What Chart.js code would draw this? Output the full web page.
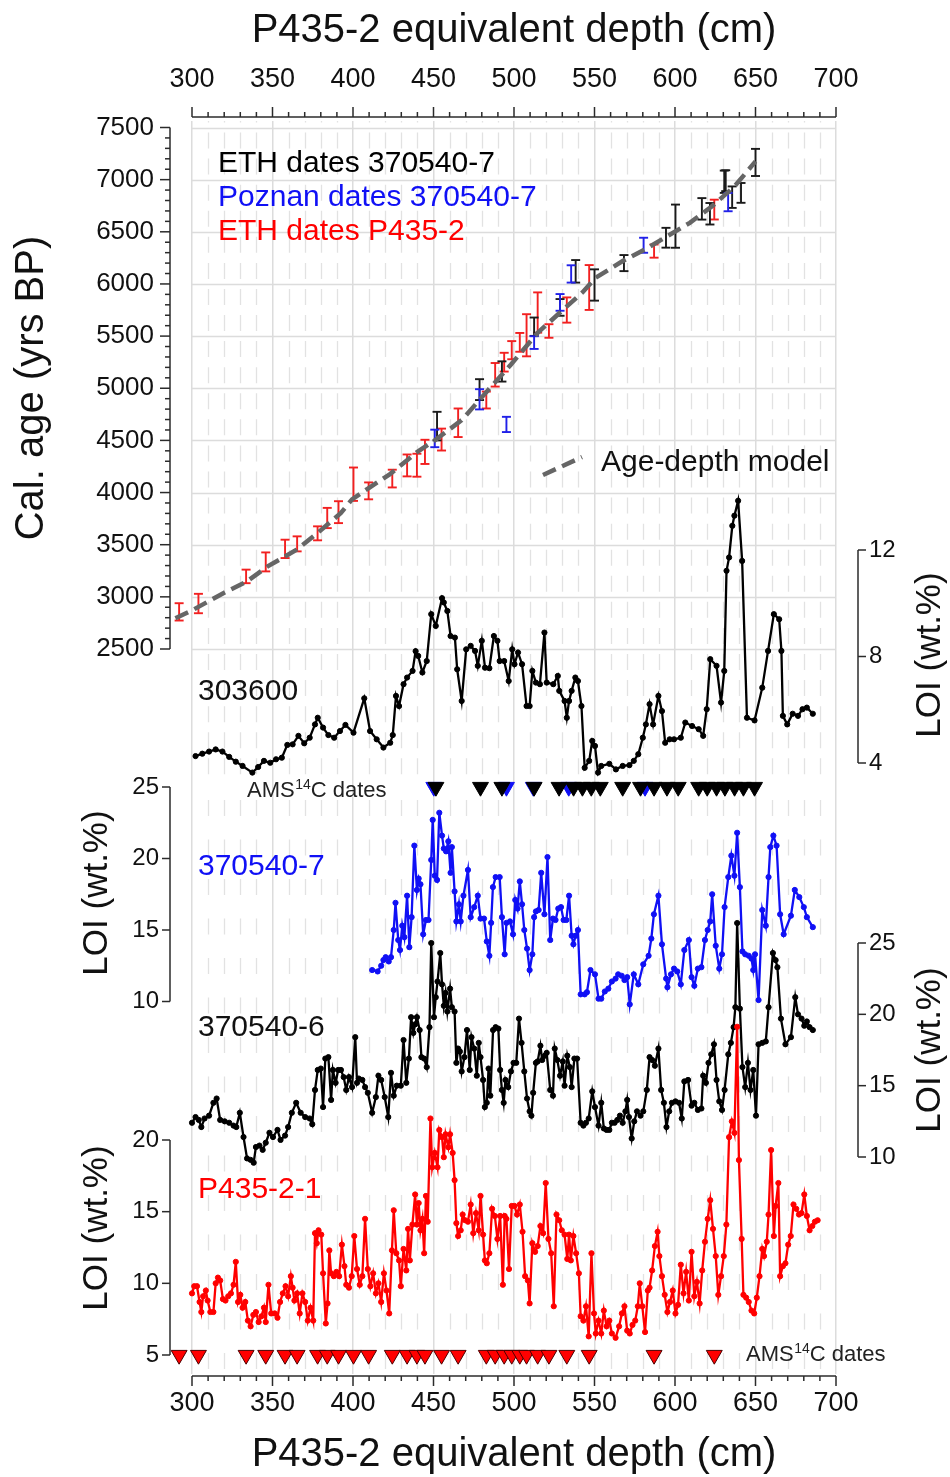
<!DOCTYPE html>
<html><head><meta charset="utf-8">
<script src="https://cdn.jsdelivr.net/npm/chart.js@4/dist/chart.umd.min.js"></script>
<style>html,body{margin:0;padding:0;background:#fff}canvas{display:block}</style>
</head><body>
<canvas id="c" width="950" height="1477" style="width:950px;height:1477px"></canvas>
<script>
// ---------------- DATA ----------------
const depthTicks = [300,350,400,450,500,550,600,650,700];
const depthMinorStep = 10;
const ageTicks = [2500,3000,3500,4000,4500,5000,5500,6000,6500,7000,7500];
const ageMinorStep = 100;
const loiTicks303600 = [4,8,12];
const loiTicks370540_7 = [10,15,20,25];
const loiTicks370540_6 = [10,15,20,25];
const loiTicksP435 = [5,10,15,20];

// age-depth model
const modelDepth = [289.7,300,310,320,334,347,365,378,392.5,399.4,410,423,440,450.8,467.5,484,498,514.7,528.6,542.5,550.8,567.5,581.4,595.3,609.2,623,637,650];
const modelAge   = [2795,2870,2955,3040,3147,3292,3452,3612,3804,3935,4045,4177,4390,4500,4694,4984,5226,5532,5726,5919,6060,6220,6331,6459,6586,6745,6936,7175];

// ETH dates 370540-7 (black)
const ethDepth370540 = [452.2,478.6,492.5,512.5,528.6,538.3,550,568.3,594.4,600.3,616.7,621.7,630.6,631.5,635.5,641,650];
const ethAge370540   = [4637,4987,5161,5590,5775,6121,5990,6200,6443,6554,6720,6673,6980,6990,6832,6873,7165];
const ethErr370540   = [137,100,97,88,80,108,150,77,95,207,103,103,107,100,103,95,130];
// Poznan dates 370540-7 (blue)
const poznanDepth370540 = [450.8,478.6,495.3,512.5,528.6,535.5,580.5,633];
const poznanAge370540   = [4519,4894,4653,5438,5823,6096,6371,6785];
const poznanErr370540   = [84,97,73,61,80,83,72,88];
// ETH dates P435-2 (red)
const ethDepthP435 = [292,304,333.6,345.8,357.8,365.3,378,384,391,400.3,409.7,424.4,433.6,439.7,444.7,455,465.3,482.8,488.3,493.9,498.6,503.6,507.8,514.7,521.7,532.8,546.7,587,624.4];
const ethAgeP435   = [2856,2936,3196,3335,3460,3508,3609,3756,3812,4080,4016,4134,4260,4262,4390,4508,4669,4887,5129,5250,5365,5440,5508,5726,5549,5750,5966,6315,6713];
const ethErrP435   = [83,93,65,91,88,72,67,97,105,160,81,85,105,110,116,105,137,81,113,90,87,90,202,193,65,121,215,63,95];

// AMS 14C date depths in core 370540-7 (triangle row)
const amsEth370540 = [451.5,479.2,492.5,512.5,528,537,542.5,548,553.6,567.5,578.6,587,595,602,614.7,620,625.8,631,637,642.5,649.4];
const amsPoznan370540 = [450.2,495.3,512,534,581.4];

// LOI 303600
const depth303600 = [302.2,306.4,310.6,314.7,318.9,323.1,327.2,331.4,337.5,341.1,344.7,348.6,352.2,355.8,359.2,362.5,366.1,369.7,373.1,376.4,378.1,381.4,384.7,388.3,391.9,395.3,400.3,407.0,410.6,414.7,418.9,423.1,424.7,426.7,428.6,431.4,433.6,437.0,438.9,440.5,443.1,445.8,448.6,451.4,455.3,456.4,458.6,460.6,463.3,464.7,467.5,470.3,473.1,475.8,477.5,480.0,482.0,484.7,487.5,489.7,491.1,493.9,496.7,498.9,500.3,502.5,505.0,507.8,509.7,511.4,513.6,516.1,518.9,520.3,524.4,527.2,528.1,531.4,532.8,534.2,535.8,538.1,539.7,541.9,543.9,546.7,548.6,550.3,552.2,554.2,559.2,563.3,567.5,571.7,574.4,577.2,580.0,581.9,584.2,586.4,589.7,591.9,593.9,596.7,599.4,603.6,606.4,610.6,614.7,617.5,619.7,621.9,625.8,628.6,630.6,632.0,633.6,635.6,636.9,639.2,641.7,644.7,649.4,654.2,657.8,661.4,664.7,666.1,667.0,669.7,673.1,676.4,679.2,681.9,685.6];
const loi303600 = [4.26,4.35,4.43,4.51,4.43,4.23,4.05,3.89,3.64,3.85,4.08,4.01,4.14,4.20,4.68,4.70,5.02,4.74,4.95,5.45,5.70,5.33,5.05,4.95,5.20,5.43,5.14,6.43,5.20,4.89,4.58,4.76,5.05,6.52,6.14,6.96,7.21,7.46,8.20,8.02,7.40,7.83,9.59,9.15,10.19,10.03,9.71,8.77,8.71,7.52,6.33,8.27,8.40,8.21,7.65,8.59,7.58,7.56,8.77,8.59,7.83,7.83,7.08,8.27,7.71,8.15,7.71,6.14,6.14,7.46,7.02,6.96,8.90,7.02,6.96,7.27,6.71,6.33,5.70,6.33,6.71,7.21,7.08,6.14,3.82,4.08,4.83,4.64,3.64,3.89,3.97,3.76,3.89,3.92,4.08,4.33,4.95,5.45,6.21,5.45,6.52,5.95,4.76,4.89,4.89,4.95,5.52,5.39,5.27,5.02,6.02,7.90,7.65,6.27,7.46,11.22,11.72,12.91,13.29,13.85,11.59,5.70,5.60,6.83,8.21,9.59,9.40,8.21,5.77,5.45,5.85,5.77,6.02,6.08,5.85];

// LOI 370540-7
const depth370540_7 = [411.9,415.3,417.5,418.9,420.3,422.2,423.6,425.3,426.4,428.1,429.2,430.6,431.9,433.6,435.0,436.4,438.1,439.7,440.8,441.9,443.6,445.3,446.9,448.6,449.5,450.8,452.2,453.6,455.3,456.4,457.8,459.2,460.6,461.4,463.1,464.2,465.8,466.9,468.6,471.4,473.1,475.3,477.5,479.2,481.4,483.1,484.7,485.8,486.9,488.6,491.1,492.5,494.2,495.3,497.5,499.4,500.8,502.2,503.6,505.0,506.4,508.1,509.7,511.4,512.5,513.6,515.3,516.9,518.9,520.8,522.5,524.2,525.8,527.5,529.2,530.8,532.5,534.2,535.8,536.9,538.3,539.7,541.4,543.9,545.3,547.5,550.3,552.5,554.2,556.4,558.6,560.8,563.1,564.7,566.9,568.6,570.3,571.9,574.4,577.2,580.3,583.6,585.3,586.9,589.7,591.9,594.5,595.3,597.5,599.4,601.4,603.6,605.8,608.6,610.3,612.0,614.2,616.4,618.6,620.3,621.9,623.1,625.3,627.5,629.2,630.8,633.1,635.0,636.9,638.6,640.3,641.9,643.6,645.8,647.5,648.6,649.7,651.9,654.2,656.4,658.1,659.2,661.1,663.1,665.3,667.5,672.0,674.4,677.2,680.0,681.9,685.6];
const loi370540_7 = [12.2,12.1,12.5,12.9,13.1,12.8,13.1,15.0,16.9,14.3,13.6,15.3,14.5,17.4,13.8,15.9,20.9,17.8,18.6,18.2,14.7,15.7,15.7,19.9,22.7,18.8,18.5,23.2,21.6,20.7,20.5,21.2,19.0,20.8,17.7,15.6,16.8,15.6,17.4,19.2,15.9,16.6,17.4,15.8,15.8,14.2,13.2,15.5,18.0,18.7,18.7,15.9,13.3,15.5,15.6,14.7,17.1,16.5,18.4,16.8,15.0,13.7,12.2,13.3,15.9,16.3,16.4,19.0,16.1,20.1,14.3,15.8,15.7,16.5,16.6,15.7,15.7,17.4,14.6,14.0,14.6,15.0,10.5,10.5,10.65,12.2,11.9,10.2,10.2,10.7,10.9,11.4,11.6,11.9,11.8,11.5,11.7,9.8,11.9,11.2,12.6,13.2,14.4,16.1,17.4,14.0,11.6,11.0,11.9,12.3,12.1,11.2,13.6,14.3,11.7,11.1,12.3,12.4,14.3,15.0,15.6,17.5,13.9,12.3,13.3,16.6,18.7,20.2,18.8,21.8,18.0,13.5,13.3,13.2,13.0,12.2,13.3,10.1,16.4,15.3,18.7,20.8,21.6,20.9,16.1,14.7,16.0,17.8,17.3,16.6,15.9,15.2];

// LOI 370540-6
const depth370540_6 = [300.0,302.2,304.2,305.8,307.8,310.6,313.3,315.3,317.5,320.3,323.1,325.8,327.5,329.7,332.0,334.2,336.4,338.3,339.7,341.9,343.9,345.8,348.1,350.3,353.1,355.0,357.8,359.7,362.0,364.7,367.5,370.3,373.1,374.7,376.4,378.1,380.0,381.4,382.8,384.7,386.4,387.5,389.2,390.8,392.5,394.2,395.8,397.5,399.4,401.4,402.5,403.6,405.8,407.5,409.2,411.9,414.2,415.8,417.5,419.7,421.9,423.6,425.3,427.2,429.7,431.4,433.1,434.7,436.1,437.5,438.6,439.7,441.4,442.5,444.2,445.8,447.5,448.6,450.3,451.4,452.5,454.2,455.3,456.4,457.5,458.6,460.3,461.4,463.1,464.2,465.3,466.4,467.5,469.2,470.8,472.5,473.6,475.3,476.9,478.1,479.2,480.8,481.9,483.1,484.2,485.3,487.0,488.6,490.3,491.4,492.5,493.6,494.7,496.4,498.1,499.7,501.4,503.1,504.7,506.4,508.1,509.7,510.8,511.9,513.6,514.7,516.4,517.5,519.2,520.3,522.5,524.2,525.3,526.9,528.6,530.3,531.4,533.1,534.7,535.8,537.5,539.2,541.4,543.1,544.7,546.4,548.6,550.3,552.5,554.2,555.8,557.5,559.2,560.8,562.5,564.2,565.8,567.5,569.2,570.3,571.4,573.1,574.7,576.4,578.6,580.3,582.5,584.2,585.8,587.5,589.7,591.4,593.1,594.7,596.4,598.1,600.3,602.5,604.2,605.8,608.1,610.3,612.0,614.2,616.4,617.5,619.2,620.8,622.5,624.2,625.8,627.5,629.2,630.8,633.1,634.7,636.4,637.5,638.6,640.3,641.9,643.6,645.3,646.9,648.6,650.3,651.9,654.2,656.4,658.1,660.8,662.5,663.6,665.8,668.6,672.0,674.7,676.4,678.6,680.3,681.9,683.6,685.6];
const loi370540_6 = [12.4,12.8,12.6,12.1,12.7,12.9,13.8,14.1,12.6,12.5,12.4,12.2,12.1,13.1,11.4,9.9,9.8,9.6,10.7,10.8,10.5,11.0,11.7,11.4,11.9,11.2,11.5,12.1,13.1,13.8,13.1,12.8,12.7,12.3,14.7,16.1,16.2,13.5,16.9,17.0,14.0,16.1,15.2,16.1,16.1,15.6,14.7,15.6,14.9,18.4,15.2,15.5,15.4,14.9,14.5,13.1,14.2,15.7,15.4,14.2,12.8,15.9,14.3,15.0,15.0,18.2,15.2,16.9,19.8,18.7,19.3,19.8,18.9,17.0,16.9,16.3,19.1,25.0,19.8,21.2,22.3,24.3,22.1,20.6,21.5,20.2,21.8,20.5,20.2,16.6,17.6,17.4,16.0,17.0,18.9,16.1,18.4,17.6,15.7,18.0,17.0,15.4,13.5,13.8,16.2,14.3,18.9,19.1,19.0,16.1,14.7,13.8,15.4,14.9,16.0,16.6,16.6,19.7,18.0,16.0,14.1,13.2,12.9,14.5,16.6,16.7,17.8,16.8,17.1,17.3,14.7,14.3,17.6,16.8,15.7,16.7,15.0,17.1,16.3,14.9,16.9,16.9,12.4,12.2,12.4,12.7,14.6,13.5,12.2,13.8,12.0,11.9,11.9,12.4,12.4,12.6,12.9,12.4,13.2,14.0,12.8,11.3,12.5,13.2,12.9,13.2,14.7,17.0,16.8,16.4,17.6,14.7,13.8,12.1,13.2,13.8,13.9,13.8,12.7,15.3,15.4,13.6,13.8,13.3,13.4,15.7,15.2,16.6,17.2,17.9,15.4,13.9,13.3,14.7,17.2,18.0,19.1,20.5,26.4,20.4,16.3,14.9,16.6,14.7,16.1,12.9,17.9,18.0,18.1,20.5,24.3,23.8,23.3,19.7,17.9,18.4,21.2,20.0,19.7,19.2,19.5,19.1,18.9];

// LOI P435-2-1
const depthP435 = [300.0,301.4,303.1,304.7,305.8,306.9,308.6,309.7,311.4,313.3,314.7,316.1,317.5,319.2,320.8,322.5,324.2,325.8,327.2,328.6,330.0,331.4,333.1,334.7,336.4,338.1,339.7,341.4,343.1,344.7,345.8,347.5,349.2,351.4,353.1,354.7,356.4,358.1,359.7,361.4,362.5,363.6,365.3,366.9,368.6,370.3,371.9,373.6,375.3,376.4,377.5,378.6,380.3,381.4,383.1,384.2,385.3,386.4,388.1,389.7,391.4,393.1,394.7,395.8,397.5,399.2,400.8,402.5,404.2,405.8,407.5,409.2,410.8,412.5,414.2,415.8,417.5,419.2,420.8,422.5,424.2,425.3,426.9,428.6,429.7,431.4,433.1,434.2,435.3,436.9,438.6,439.7,440.8,441.9,443.1,444.2,445.3,446.4,448.1,449.2,450.8,452.5,453.6,455.3,456.4,457.5,459.2,460.3,461.9,463.1,464.2,465.3,466.9,468.1,469.7,471.4,473.1,474.7,476.4,478.1,479.2,480.8,481.9,483.1,484.7,486.4,488.1,489.7,491.4,493.1,494.2,495.3,496.9,498.6,500.3,501.9,503.6,505.3,506.9,508.6,509.7,511.4,513.1,514.7,516.4,518.1,519.7,521.4,523.1,524.7,526.4,528.1,529.7,531.4,533.1,534.2,535.3,536.9,538.6,540.3,541.4,543.1,544.7,546.4,548.1,549.7,550.8,552.5,554.2,555.8,557.5,559.2,560.8,563.1,565.3,567.0,568.6,570.3,571.9,573.6,575.3,576.9,578.1,579.7,581.4,583.1,584.2,585.8,587.5,589.2,590.3,591.9,593.6,595.3,596.9,598.6,600.3,601.9,603.6,605.3,606.9,608.6,610.3,612.0,613.6,615.3,616.9,618.6,620.3,621.9,623.6,625.3,626.9,628.6,630.3,631.9,633.6,635.3,636.9,638.6,639.7,641.4,642.5,644.2,645.8,647.5,649.2,650.8,652.5,654.2,655.3,657.0,658.1,659.7,661.4,662.5,664.2,665.3,667.0,668.6,670.3,671.9,673.6,675.3,677.0,678.6,680.3,681.9,683.6,685.3,686.9,688.6];
const loiP435 = [9.3,9.8,9.8,8.7,8.0,9.1,9.5,8.8,8.0,8.0,10.0,10.4,10.2,8.9,8.8,9.1,9.3,9.9,11.5,8.7,9.2,8.3,8.7,7.4,7.0,7.8,8.0,7.3,7.7,8.3,7.3,9.9,7.9,7.9,7.6,8.7,9.3,9.8,9.1,10.5,9.7,8.8,9.3,7.9,9.3,8.7,7.4,8.3,7.4,13.5,12.8,13.7,13.4,10.7,7.2,8.6,12.3,10.7,10.5,10.8,10.5,12.7,11.2,9.9,9.7,10.5,13.3,11.0,9.9,10.5,14.5,11.0,9.8,10.7,9.3,10.0,8.7,10.7,9.5,7.9,12.3,15.1,12.1,11.6,9.8,12.4,10.9,13.8,11.6,14.1,16.2,14.1,15.6,13.7,14.5,12.1,16.1,14.3,21.5,18.1,19.1,18.1,20.7,20.2,18.8,20.4,19.5,20.4,19.1,17.2,14.2,13.3,13.7,14.8,14.4,14.3,15.5,13.5,14.9,13.7,16.1,13.4,11.6,11.4,12.1,15.2,14.7,13.1,14.7,9.9,14.7,14.5,11.0,15.4,15.4,14.8,15.5,13.6,10.5,10.2,8.6,12.8,12.2,12.6,14.0,13.5,17.0,13.1,12.1,8.4,14.8,14.4,13.7,13.4,11.7,13.4,11.6,13.3,12.1,10.7,7.7,7.4,8.4,6.3,12.1,7.9,6.5,7.4,6.5,8.1,7.0,7.4,6.5,6.2,7.0,7.9,8.4,6.7,6.5,7.1,7.4,8.4,10.0,8.4,6.6,9.5,9.7,10.9,12.6,13.6,11.9,10.5,9.2,8.0,8.7,9.5,7.9,8.5,11.3,9.3,10.8,8.8,12.2,9.1,10.1,8.6,10.9,12.9,14.5,15.8,13.8,11.9,9.2,10.5,11.9,14.1,20.2,21.3,20.5,27.9,18.6,13.1,9.2,9.0,8.7,8.1,7.9,9.0,10.5,12.4,11.9,12.9,14.8,19.3,13.3,15.4,17.0,10.5,11.2,11.4,12.7,13.3,15.5,15.2,14.8,14.9,16.2,14.7,13.7,14.0,14.3,14.4];

// ---------------- LAYOUT / STYLE ----------------
const W = 950, H = 1477;
const X300 = 192, X700 = 836;               // pixel columns of the first / last depth tick
const PX_PER_CM = (X700 - X300) / (depthTicks[depthTicks.length - 1] - depthTicks[0]);
const X_MIN = 285;                           // scale starts a little left of 300 so the first dates show
const AREA = {left: X300 - (depthTicks[0] - X_MIN) * PX_PER_CM, right: X700, top: 121, bottom: 1374};
const FONT = '"Liberation Sans", Arial, Helvetica, sans-serif';
const BLUE = '#1010f5', RED = '#ff0000', BLACK = '#000000';

function yRange(vHi, pHi, vLo, pLo) {
  const u = (pLo - pHi) / (vHi - vLo);
  return {min: vLo - (AREA.bottom - pLo) / u, max: vHi + (pHi - AREA.top) / u};
}
const rAge = yRange(7500, 127.5, 2500, 649);
const rA = yRange(12, 550, 4, 763);
const rB = yRange(25, 787, 10, 1001.5);
const rC = yRange(25, 943, 10, 1157);
const rD = yRange(20, 1140, 5, 1355);

const pts = (xs, ys) => xs.map((x, i) => ({x, y: ys[i]}));
const bars = (xs, ys, es) => xs.flatMap((x, i) => [{x, y: ys[i] - es[i]}, {x, y: ys[i] + es[i]}, {x, y: null}]);
const row = (xs, level) => xs.map(x => ({x, y: level}));

function errSet(label, xs, ys, es, color, order) {
  return {type:'line', label, data: bars(xs, ys, es), yAxisID:'yAge', borderColor:color, borderWidth:1.9,
    pointStyle:'line', pointRadius:4.5, pointBorderColor:color, pointBorderWidth:1.9, pointHoverRadius:4.5,
    spanGaps:false, clip:false, order};
}
function loiSet(label, xs, ys, axis, color, order) {
  return {type:'line', label, data: pts(xs, ys), yAxisID: axis, borderColor: color, borderWidth: 2.3,
    pointRadius: 2.6, pointBackgroundColor: color, pointBorderColor: color, pointBorderWidth: 1,
    tension: 0, clip: false, order};
}
function triSet(label, xs, level, axis, fill, stroke, order) {
  return {type:'scatter', label, data: row(xs, level), yAxisID: axis, pointStyle:'triangle', rotation:180,
    pointRadius: 9.2, pointHoverRadius: 9.2, backgroundColor: fill, borderColor: stroke, borderWidth: 1, clip:false, order};
}

const datasets = [
  errSet('ETH dates P435-2', ethDepthP435, ethAgeP435, ethErrP435, '#f22020', 22),
  errSet('ETH dates 370540-7', ethDepth370540, ethAge370540, ethErr370540, '#1a1a1a', 21),
  errSet('Poznan dates 370540-7', poznanDepth370540, poznanAge370540, poznanErr370540, '#2020e8', 20),
  {type:'line', label:'Age-depth model', data: pts(modelDepth, modelAge), yAxisID:'yAge', borderColor:'#666666',
    borderWidth:4.5, borderDash:[14,7], pointRadius:0, clip:false, order:15},
  loiSet('303600', depth303600, loi303600, 'yA', BLACK, 8),
  loiSet('370540-7', depth370540_7, loi370540_7, 'yB', BLUE, 7),
  loiSet('370540-6', depth370540_6, loi370540_6, 'yC', BLACK, 6),
  loiSet('P435-2-1', depthP435, loiP435, 'yD', RED, 5),
  triSet('AMS Poznan 370540-7', amsPoznan370540, 25, 'yB', BLUE, BLUE, 3),
  triSet('AMS ETH 370540-7', amsEth370540, 25, 'yB', BLACK, BLACK, 2),
  triSet('AMS ETH P435-2', ethDepthP435, 5, 'yD', RED, '#4a0000', 1)
];

function line(ctx, x1, y1, x2, y2) { ctx.beginPath(); ctx.moveTo(x1, y1); ctx.lineTo(x2, y2); ctx.stroke(); }
function text(ctx, s, x, y, size, color, align, rot) {
  ctx.save(); ctx.font = size + 'px ' + FONT; ctx.fillStyle = color; ctx.textAlign = align || 'left';
  ctx.textBaseline = 'middle'; ctx.translate(x, y); if (rot) ctx.rotate(rot); ctx.fillText(s, 0, 0); ctx.restore();
}
function amsLabel(ctx, x, y) {
  ctx.save(); ctx.fillStyle = '#222'; ctx.textAlign = 'left'; ctx.textBaseline = 'middle';
  ctx.font = '22px ' + FONT; let cx = x; ctx.fillText('AMS', cx, y); cx += ctx.measureText('AMS').width;
  ctx.font = '14px ' + FONT; ctx.fillText('14', cx + 0.5, y - 6); cx += ctx.measureText('14').width + 0.5;
  ctx.font = '22px ' + FONT; ctx.fillText('C dates', cx, y); ctx.restore();
}

const decor = {
  id: 'decor',
  beforeDatasetsDraw(chart) {
    const {ctx, chartArea: ca, scales} = chart;
    const x = scales.x, ya = scales.yAge;
    const xL = x.getPixelForValue(depthTicks[0]), xR = x.getPixelForValue(depthTicks[depthTicks.length - 1]);
    ctx.save();
    // horizontal age grid (only across the depth-tick span)
    ctx.strokeStyle = '#dcdcdc'; ctx.lineWidth = 1.5;
    ageTicks.forEach(a => { const py = Math.round(ya.getPixelForValue(a)) + 0.5; line(ctx, xL, py, xR, py); });
    // minor dashed depth grid
    ctx.beginPath(); ctx.rect(xL, ca.top, xR - xL, ca.bottom - ca.top); ctx.clip();
    ctx.strokeStyle = '#e2e2e2'; ctx.lineWidth = 1.3;
    const y0 = ya.getPixelForValue(ageTicks[ageTicks.length - 1]);
    const half = (ya.getPixelForValue(7000) - y0) / 2;
    for (let d = depthTicks[0] + depthMinorStep; d < depthTicks[depthTicks.length - 1]; d += depthMinorStep) {
      if (depthTicks.includes(d)) continue;
      const px = Math.round(x.getPixelForValue(d)) + 0.5;
      ctx.setLineDash([16, half - 16]);
      line(ctx, px, y0 + 5 - 2 * half, px, 782);
      ctx.setLineDash([16, 23.5]);
      line(ctx, px, 800, px, ca.bottom);
    }
    ctx.restore();
  },
  afterDraw(chart) {
    const {ctx, scales} = chart;
    const x = scales.x, ya = scales.yAge;
    ctx.save();
    ctx.strokeStyle = '#2b2b2b'; ctx.lineWidth = 1.5; ctx.setLineDash([]);
    const xL = x.getPixelForValue(depthTicks[0]), xR = x.getPixelForValue(depthTicks[depthTicks.length - 1]);
    // top & bottom depth axes
    const topY = 117, botY = 1376;
    line(ctx, xL, topY, xR, topY); line(ctx, xL, botY, xR, botY);
    for (let d = depthTicks[0]; d <= depthTicks[depthTicks.length - 1]; d += depthMinorStep) {
      const px = x.getPixelForValue(d), major = depthTicks.includes(d);
      line(ctx, px, topY, px, topY - (major ? 10 : 5));
      line(ctx, px, botY, px, botY + (major ? 10 : 5));
    }
    depthTicks.forEach(v => {
      text(ctx, String(v), x.getPixelForValue(v), 80, 27, '#111', 'center');
      text(ctx, String(v), x.getPixelForValue(v), 1404, 27, '#111', 'center');
    });
    // age axis
    const aTop = ya.getPixelForValue(ageTicks[ageTicks.length - 1]), aBot = ya.getPixelForValue(ageTicks[0]);
    line(ctx, 170, aTop, 170, aBot);
    for (let a = ageTicks[0]; a <= ageTicks[ageTicks.length - 1]; a += ageMinorStep) {
      const py = ya.getPixelForValue(a), major = ageTicks.includes(a);
      line(ctx, 170, py, 170 - (major ? 10 : 5), py);
    }
    ageTicks.forEach(v => text(ctx, String(v), 154, ya.getPixelForValue(v), 26, '#111', 'right'));
    // LOI bracket axes
    function bracket(scale, ticks, xl, side) {
      const t = scale.getPixelForValue(Math.max(...ticks)), b = scale.getPixelForValue(Math.min(...ticks));
      line(ctx, xl, t, xl, b);
      ticks.forEach(v => {
        const py = scale.getPixelForValue(v);
        line(ctx, xl, py, xl + side * 8, py);
        text(ctx, String(v), xl + side * 11, py, 24, '#111', side < 0 ? 'right' : 'left');
      });
    }
    bracket(scales.yA, loiTicks303600, 858, 1);
    bracket(scales.yB, loiTicks370540_7, 170, -1);
    bracket(scales.yC, loiTicks370540_6, 858, 1);
    bracket(scales.yD, loiTicksP435, 170, -1);
    ctx.restore();

    // titles
    text(ctx, 'P435-2 equivalent depth (cm)', 514, 31, 40, '#111', 'center');
    text(ctx, 'P435-2 equivalent depth (cm)', 514, 1455, 40, '#111', 'center');
    text(ctx, 'Cal. age (yrs BP)', 32, 388, 40, '#111', 'center', -Math.PI / 2);
    text(ctx, 'LOI (wt.%)', 97, 893, 35, '#111', 'center', -Math.PI / 2);
    text(ctx, 'LOI (wt.%)', 97, 1228, 35, '#111', 'center', -Math.PI / 2);
    text(ctx, 'LOI (wt.%)', 930, 655, 35, '#111', 'center', -Math.PI / 2);
    text(ctx, 'LOI (wt.%)', 930, 1050, 35, '#111', 'center', -Math.PI / 2);
    // legend
    text(ctx, 'ETH dates 370540-7', 218, 164, 30, '#000', 'left');
    text(ctx, 'Poznan dates 370540-7', 218, 198, 30, BLUE, 'left');
    text(ctx, 'ETH dates P435-2', 218, 232, 30, RED, 'left');
    ctx.save(); ctx.strokeStyle = '#666666'; ctx.lineWidth = 4.5; ctx.setLineDash([14, 7]);
    line(ctx, 543, 475, 582, 457); ctx.restore();
    text(ctx, 'Age-depth model', 601, 463, 30, '#111', 'left');
    // series labels
    text(ctx, '303600', 198, 692, 30, '#111', 'left');
    text(ctx, '370540-7', 198, 867, 30, BLUE, 'left');
    text(ctx, '370540-6', 198, 1028, 30, '#111', 'left');
    text(ctx, 'P435-2-1', 198, 1190, 30, RED, 'left');
    amsLabel(ctx, 247, 791);
    amsLabel(ctx, 746, 1355);
  }
};

const hiddenY = (r) => ({type:'linear', display:false, min:r.min, max:r.max});

new Chart(document.getElementById('c'), {
  type: 'line',
  data: {datasets},
  options: {
    responsive: false, animation: false, devicePixelRatio: 1, events: [],
    layout: {padding: {left: AREA.left, right: W - AREA.right, top: AREA.top, bottom: H - AREA.bottom}},
    plugins: {legend: {display: false}, tooltip: {enabled: false}},
    scales: {
      x: {type:'linear', position:'bottom', min: X_MIN, max: depthTicks[depthTicks.length - 1],
          afterFit(s) { s.height = 0; }, afterBuildTicks(s) { s.ticks = depthTicks.map(v => ({value: v})); },
          ticks: {display: false}, border: {display: false},
          grid: {color: '#dcdcdc', lineWidth: 1.5, drawTicks: false}},
      yAge: hiddenY(rAge), yA: hiddenY(rA), yB: hiddenY(rB), yC: hiddenY(rC), yD: hiddenY(rD)
    }
  },
  plugins: [decor]
});
</script>
</body></html>
